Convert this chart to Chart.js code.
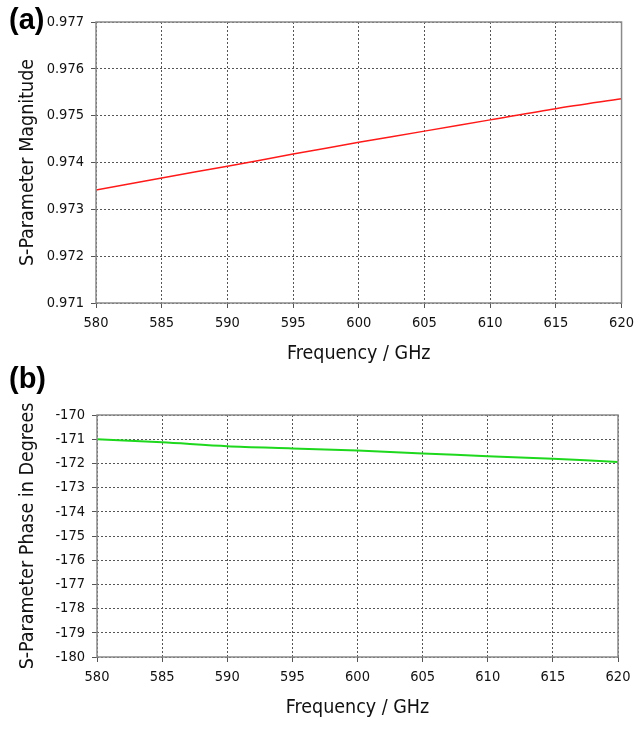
<!DOCTYPE html>
<html>
<head>
<meta charset="utf-8">
<script src="https://cdn.jsdelivr.net/npm/chart.js@4.4.0/dist/chart.umd.min.js"></script>
<style>
  body { margin: 0; background: #fff; }
  #wrap { position: relative; width: 641px; height: 745px; }
  .panel { position: absolute; left: 0; width: 641px; }
  .tag { position: absolute; font: bold 29px "Liberation Sans", Arial, sans-serif; line-height: 1; color: #000; }
</style>
</head>
<body>
<div id="wrap">
  <div class="panel" style="top:0;height:370px"><canvas id="chartMag"></canvas></div>
  <div class="panel" style="top:370px;height:354px"><canvas id="chartPhase"></canvas></div>
  <div class="tag" style="left:9px;top:5px">(a)</div>
  <div class="tag" style="left:9px;top:364px">(b)</div>
</div>
<script>
// frequência (GHz)
const freqs = [580, 585, 590, 595, 600, 605, 610, 615, 620];
// magnitude do parâmetro S
const magnitude = [0.97341, 0.97367, 0.97392, 0.97418, 0.97443, 0.97467, 0.97491, 0.97515, 0.97536];
// fase em graus
const phase = [-171.00, -171.13, -171.29, -171.38, -171.47, -171.59, -171.70, -171.81, -171.94];

const xTitle = "Frequency / GHz";
const magTitle = "S-Parameter Magnitude";
const phaseTitle = "S-Parameter Phase in Degrees";

const tickFont = { family: "'Liberation Sans Narrow', 'DejaVu Sans Condensed', sans-serif", size: 14.5 };
const titleFont = { family: "'DejaVu Sans Condensed', 'DejaVu Sans', sans-serif", size: 19.5 };

// contorno do gráfico (caixa)
const boxPlugin = {
  id: "box",
  afterDraw(chart) {
    const a = chart.chartArea;
    const ctx = chart.ctx;
    ctx.save();
    ctx.strokeStyle = "#8a8a8a";
    ctx.lineWidth = 1.5;
    ctx.strokeRect(a.left, a.top, a.right - a.left, a.bottom - a.top);
    ctx.restore();
  },
};

function montarGrafico(id, valores, cor, largura, yMin, yMax, yStep, decimais, yTitulo, pad) {
  const ctx = document.getElementById(id);
  return new Chart(ctx, {
    type: "line",
    data: {
      labels: freqs,
      datasets: [
        {
          data: freqs.map((f, i) => ({ x: f, y: valores[i] })),
          borderColor: cor,
          backgroundColor: cor,
          borderWidth: largura,
          pointRadius: 0,
          tension: 0.3,
        },
      ],
    },
    plugins: [boxPlugin],
    options: {
      responsive: true,
      maintainAspectRatio: false,
      animation: false,
      layout: { padding: pad },
      plugins: { legend: { display: false }, tooltip: { enabled: false } },
      scales: {
        x: {
          type: "linear",
          min: 580,
          max: 620,
          ticks: { stepSize: 5, color: "#111", font: tickFont, padding: 7, maxRotation: 0 },
          grid: { color: "#555", lineWidth: 1, tickLength: 5 },
          border: { display: false, dash: [2, 2] },
          title: { display: true, text: xTitle, color: "#111", font: titleFont, padding: { top: 8 } },
          afterFit: (s) => { s.height = 67; },
        },
        y: {
          min: yMin,
          max: yMax,
          ticks: {
            stepSize: yStep,
            color: "#111",
            font: tickFont,
            padding: 7,
            callback: (v) => Number(v).toFixed(decimais),
          },
          grid: { color: "#555", lineWidth: 1, tickLength: 5 },
          border: { display: false, dash: [2, 2] },
          title: { display: true, text: yTitulo, color: "#111", font: titleFont, padding: 0 },
          afterFit: (s) => { s.width = pad.yw; },
        },
      },
    },
  });
}

montarGrafico("chartMag", magnitude, "#ff1a1a", 1.5, 0.971, 0.977, 0.001, 3, magTitle,
  { left: 16, right: 19, top: 22, bottom: 0, yw: 80 });
montarGrafico("chartPhase", phase, "#1ed81e", 2, -180, -170, 1, 0, phaseTitle,
  { left: 16, right: 23, top: 45, bottom: 0, yw: 81 });
</script>
</body>
</html>
